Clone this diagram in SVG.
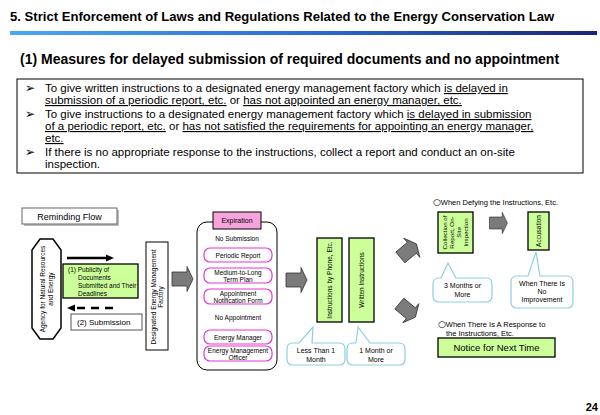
<svg xmlns="http://www.w3.org/2000/svg" width="600" height="415" viewBox="0 0 600 415">
<defs>
<linearGradient id="bar" x1="0" y1="0" x2="1" y2="0">
<stop offset="0" stop-color="#4aa8f2"/>
<stop offset="0.5" stop-color="#2a6fd0"/>
<stop offset="1" stop-color="#1b237a"/>
</linearGradient>
<path id="blk" d="M-10,-7 H5 V-12.5 L11,0 L5,12.5 V7 H-10 Z"/>
</defs>
<style>
text{font-family:"Liberation Sans",Arial,sans-serif;fill:#000}
.t{font-size:13.1px;font-weight:bold}
.sub{font-size:14px;font-weight:bold}
.b{font-size:11.5px}
.s{font-size:6.5px}
.m{font-size:7px}
.c{font-size:7.5px}
.o{font-size:9px;font-family:"DejaVu Sans",sans-serif}
.u{text-decoration:underline}
.g{fill:#ccff99;stroke:#000;stroke-width:1.3}
.pill{fill:#fff;stroke:#e236d6;stroke-width:1.2}
.call{fill:#fff;stroke:#8ccfe6;stroke-width:1.2}
.ba{fill:#7b7b7b;stroke:#333;stroke-width:0.8}
</style>
<rect width="600" height="415" fill="#fff"/>
<g id="header">
<text class="t" x="10" y="21">5. Strict Enforcement of Laws and Regulations Related to the Energy Conservation Law</text>
<rect x="10" y="31" width="587" height="4" fill="url(#bar)"/>
<text class="sub" x="20" y="64">(1) Measures for delayed submission of required documents and no appointment</text>
</g>
<g id="bullets">
<rect x="17" y="79" width="566" height="94" fill="#fff" stroke="#000" stroke-width="1"/>
<text class="b" x="25" y="92">➢</text>
<text class="b" x="45" y="92">To give written instructions to a designated energy management factory which <tspan class="u">is delayed in</tspan></text>
<text class="b" x="45" y="104"><tspan class="u">submission of a periodic report, etc.</tspan> or <tspan class="u">has not appointed an energy manager, etc.</tspan></text>
<text class="b" x="25" y="118">➢</text>
<text class="b" x="45" y="118">To give instructions to a designated energy management factory which <tspan class="u">is delayed in submission</tspan></text>
<text class="b" x="45" y="130"><tspan class="u">of a periodic report, etc.</tspan> or <tspan class="u">has not satisfied the requirements for appointing an energy manager,</tspan></text>
<text class="b" x="45" y="142"><tspan class="u">etc.</tspan></text>
<text class="b" x="25" y="156">➢</text>
<text class="b" x="45" y="156">If there is no appropriate response to the instructions, collect a report and conduct an on-site</text>
<text class="b" x="45" y="168">inspection.</text>
</g>
<g id="reminding-flow">
<rect x="24" y="210" width="95" height="16" fill="#bbb"/>
<rect x="22" y="208" width="95" height="16" fill="#fff" stroke="#666" stroke-width="1"/>
<text x="69.5" y="219.5" font-size="9" text-anchor="middle">Reminding Flow</text>
</g>
<g id="agency">
<polygon points="40,239 53,239 61,250 61,328 53,339 40,339 32,328 32,250" fill="#fff" stroke="#000" stroke-width="1.5"/>
<text class="s" transform="translate(46.5,289) rotate(-90)" text-anchor="middle"><tspan x="0" y="-1.5">Agency for Natural Resources</tspan><tspan x="0" y="6">and Energy</tspan></text>
</g>
<g id="publicity">
<rect x="63" y="264" width="75" height="34" class="g" stroke-width="1"/>
<text class="s" x="68" y="272">(1)  Publicity of</text>
<text class="s" x="78" y="280">Documents</text>
<text class="s" x="78" y="288">Submitted and Their</text>
<text class="s" x="78" y="296">Deadlines</text>
</g>
<g id="submission">
<rect x="71" y="314" width="71" height="16" fill="#fff" stroke="#555" stroke-width="1"/>
<text x="77" y="325" font-size="8">(2) Submission</text>
</g>
<g id="factory">
<rect x="146" y="242" width="22" height="108" fill="#fff" stroke="#000" stroke-width="1"/>
<text class="s" transform="translate(157,297) rotate(-90)" text-anchor="middle"><tspan x="0" y="-1.5">Designated Energy Management</tspan><tspan x="0" y="6">Factory</tspan></text>
</g>
<g id="expiration-group">
<rect x="197" y="222" width="80" height="148" rx="10" fill="#fff" stroke="#000" stroke-width="1"/>
<rect x="213" y="212" width="48" height="17" fill="#f7a3dc" stroke="#000" stroke-width="1"/>
<text class="m" x="237" y="223" text-anchor="middle">Expiration</text>
<text class="s" x="237" y="241" text-anchor="middle">No Submission</text>
<rect class="pill" x="204" y="248" width="68" height="14" rx="6"/>
<text class="s" x="238" y="257.5" text-anchor="middle">Periodic Report</text>
<rect class="pill" x="204" y="268" width="68" height="15" rx="6"/>
<text class="s" x="238" y="274.5" text-anchor="middle">Medium-to-Long</text>
<text class="s" x="238" y="281.5" text-anchor="middle">Term Plan</text>
<rect class="pill" x="204" y="289" width="68" height="15" rx="6"/>
<text class="s" x="238" y="295.5" text-anchor="middle">Appointment</text>
<text class="s" x="238" y="302.5" text-anchor="middle">Notification Form</text>
<text class="s" x="238" y="320" text-anchor="middle">No Appointment</text>
<rect class="pill" x="204" y="330" width="68" height="14" rx="6"/>
<text class="s" x="238" y="339.5" text-anchor="middle">Energy Manager</text>
<rect class="pill" x="204" y="346" width="68" height="15" rx="6"/>
<text class="s" x="238" y="352.5" text-anchor="middle">Energy Management</text>
<text class="s" x="238" y="359.5" text-anchor="middle">Officer</text>
</g>
<g id="phone">
<rect class="g" x="317" y="238" width="25" height="84"/>
<text class="s" transform="translate(329.5,280) rotate(-90)" text-anchor="middle" y="2.3">Instructions by Phone, Etc.</text>
</g>
<g id="written">
<rect class="g" x="349" y="238" width="25" height="84"/>
<text class="s" transform="translate(361.5,280) rotate(-90)" text-anchor="middle" y="2.3">Written Instructions</text>
</g>
<g id="less-than">
<path class="call" d="M293,343 H299 L313,327 L312,343 H339 Q345,343 345,349 V359 Q345,365 339,365 H293 Q287,365 287,359 V349 Q287,343 293,343 Z"/>
<text class="m" x="316" y="353" text-anchor="middle">Less Than 1</text>
<text class="m" x="316" y="361.5" text-anchor="middle">Month</text>
</g>
<g id="month-more">
<path class="call" d="M353,343 H356 L358,327 L370,343 H399 Q405,343 405,349 V359 Q405,365 399,365 H353 Q347,365 347,359 V349 Q347,343 353,343 Z"/>
<text class="m" x="376" y="353" text-anchor="middle">1 Month or</text>
<text class="m" x="376" y="361.5" text-anchor="middle">More</text>
</g>
<g id="defying">
<text class="c" x="433" y="205"><tspan class="o">○</tspan>When Defying the Instructions, Etc.</text>
</g>
<g id="collection">
<rect class="g" x="438" y="212" width="35" height="41"/>
<text class="s" transform="translate(455.5,232.5) rotate(-90)" text-anchor="middle" style="font-size:6.2px"><tspan x="0" y="-8.2">Collection of</tspan><tspan x="0" y="-1.4">Report, On-</tspan><tspan x="0" y="5.4">Site</tspan><tspan x="0" y="12.2">Inspection</tspan></text>
</g>
<g id="accusation">
<rect class="g" x="528" y="212" width="21" height="38"/>
<text class="s" transform="translate(538.5,231) rotate(-90)" text-anchor="middle" y="2.3">Accusation</text>
</g>
<g id="three-months">
<path class="call" d="M439,278 H441 L448,263 L456,278 H486 Q492,278 492,284 V296 Q492,302 486,302 H439 Q433,302 433,296 V284 Q433,278 439,278 Z"/>
<text class="m" x="462.5" y="288" text-anchor="middle">3 Months or</text>
<text class="m" x="462.5" y="297" text-anchor="middle">More</text>
</g>
<g id="no-improvement">
<path class="call" d="M517,276 H528 L536,252 L540,276 H567 Q573,276 573,282 V302 Q573,308 567,308 H517 Q511,308 511,302 V282 Q511,276 517,276 Z"/>
<text class="m" x="542" y="286" text-anchor="middle">When There Is</text>
<text class="m" x="542" y="294" text-anchor="middle">No</text>
<text class="m" x="542" y="302" text-anchor="middle">Improvement</text>
</g>
<g id="response">
<text class="c" x="438" y="327"><tspan class="o">○</tspan>When There Is A Response to</text>
<text class="c" x="446" y="336">the Instructions, Etc.</text>
</g>
<g id="notice">
<rect class="g" x="438" y="338" width="117" height="19" stroke-width="1.5"/>
<text x="496.5" y="351" font-size="9.5" text-anchor="middle">Notice for Next Time</text>
</g>
<g id="page">
<text x="598" y="411" font-size="11" font-weight="bold" text-anchor="end">24</text>
</g>
<g id="connectors">
<line x1="67" y1="258" x2="107" y2="258" stroke="#000" stroke-width="2.5"/>
<polygon points="106,254.5 114,258 106,261.5" fill="#000"/>
<line x1="113" y1="308" x2="74" y2="308" stroke="#000" stroke-width="2.5" stroke-dasharray="8,6"/>
<polygon points="75,304.5 67,308 75,311.5" fill="#000"/>
<use href="#blk" class="ba" transform="translate(182,279)"/>
<use href="#blk" class="ba" transform="translate(296,280)"/>
<use href="#blk" class="ba" transform="translate(498,223) scale(0.85)"/>
<use href="#blk" class="ba" transform="translate(408,251) rotate(-40)"/>
<use href="#blk" class="ba" transform="translate(407,310) rotate(40)"/>
</g>
</svg>
